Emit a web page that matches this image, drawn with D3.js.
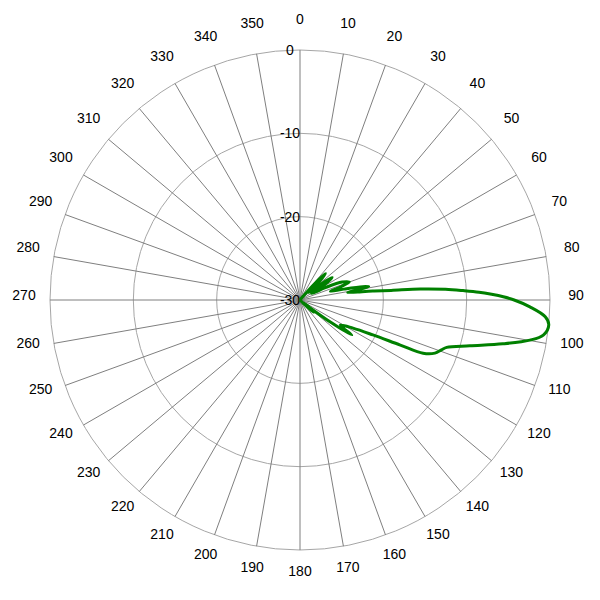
<!DOCTYPE html>
<html>
<head>
<meta charset="utf-8">
<script src="https://cdn.jsdelivr.net/npm/d3@7"></script>
<style>
  html, body { margin: 0; padding: 0; background: #ffffff; }
  svg { display: block; }
</style>
</head>
<body>
<svg id="chart" width="600" height="600"></svg>
<script>
// ---- data ----
const angleTicks = d3.range(0, 360, 10);            // 0,10,...,350
const radialTicks = [0, -10, -20, -30];              // dB rings
const patternAngles = [0, 10, 20, 30, 36, 40, 42, 44, 46, 48, 50, 53, 55, 57, 59, 61,
  64, 67, 70, 72, 74, 76, 78, 79, 80, 81, 82, 83, 84, 84.8, 85.8, 86.7, 87.5, 88.3,
  89.1, 90, 91.7, 93.9, 95.7, 98.2, 99.9, 102.2, 105.1, 107.9, 109.4, 111.5, 113.4,
  114.2, 115.6, 118, 122, 124.1, 126, 128, 130, 132, 134, 136, 140, 150, 160, 170,
  180, 190, 200, 210, 220, 230, 240, 250, 260, 270, 280, 290, 300, 310, 320, 330,
  340, 350, 360];
const patternDb = [-30, -30, -30, -30, -30, -29.5, -27.3, -25.6, -26.6, -28.0, -28.6, -26.8, -25.3, -26, -27.6, -28.4,
  -26.6, -24.5, -23.7, -24.8, -26.2, -24.6, -22.3, -21.6, -22.8, -24.2, -23, -21.2, -19, -15.5, -12.5, -10.4, -8.5, -7,
  -5.6, -4.3, -2.4, -0.5, 0, -0.5, -2.0, -5.1, -8.9, -11.5, -12.0, -12.6, -13.9,
  -16.8, -20.3, -22.8, -24.3, -22.5, -25.5, -28.5, -29.5, -27.8, -29.3, -30, -30, -30, -30, -30,
  -30, -30, -30, -30, -30, -30, -30, -30, -30, -30, -30, -30, -30, -30, -30, -30,
  -30, -30, -30];

// ---- layout ----
const cx = 300, cy = 300, R = 250, labelR = 276;
const svg = d3.select("#chart");
const g = svg.append("g").attr("transform", `translate(${cx},${cy})`);
const rScale = d3.scaleLinear().domain([-30, 0]).range([0, R]).clamp(true);
const toRad = d => d * Math.PI / 180;

// rings
g.selectAll("circle.ring")
  .data(radialTicks.filter(v => rScale(v) > 0))
  .join("circle")
  .attr("class", "ring")
  .attr("r", d => rScale(d))
  .attr("fill", "none")
  .attr("stroke", "#a6a6a6")
  .attr("stroke-width", 1);

// spokes
g.selectAll("line.spoke")
  .data(angleTicks)
  .join("line")
  .attr("class", "spoke")
  .attr("x1", 0).attr("y1", 0)
  .attr("x2", d => R * Math.sin(toRad(d)))
  .attr("y2", d => -R * Math.cos(toRad(d)))
  .attr("stroke", "#7f7f7f")
  .attr("stroke-width", 1);

// angle labels
g.selectAll("text.alabel")
  .data(angleTicks)
  .join("text")
  .attr("class", "alabel")
  .attr("x", d => labelR * Math.sin(toRad(d)))
  .attr("y", d => -labelR * Math.cos(toRad(d)) - 5)
  .attr("dy", "0.35em")
  .attr("text-anchor", "middle")
  .attr("font-family", "Liberation Sans, Arial, sans-serif")
  .attr("font-size", 14)
  .attr("fill", "#000")
  .text(d => d);

// radial labels
g.selectAll("text.rlabel")
  .data(radialTicks)
  .join("text")
  .attr("class", "rlabel")
  .attr("x", -10)
  .attr("y", d => -rScale(d))
  .attr("dy", "0.35em")
  .attr("text-anchor", "middle")
  .attr("font-family", "Liberation Sans, Arial, sans-serif")
  .attr("font-size", 14)
  .attr("fill", "#000")
  .text(d => d);

// pattern
const pts = patternAngles.map((a, i) => [toRad(a), rScale(patternDb[i])]);
const line = d3.lineRadial()
  .angle(d => d[0])
  .radius(d => d[1])
  .curve(d3.curveCatmullRom.alpha(0.5));
g.append("path")
  .attr("d", line(pts))
  .attr("fill", "none")
  .attr("stroke", "#008000")
  .attr("stroke-width", 3)
  .attr("stroke-linejoin", "round");
</script>
</body>
</html>
